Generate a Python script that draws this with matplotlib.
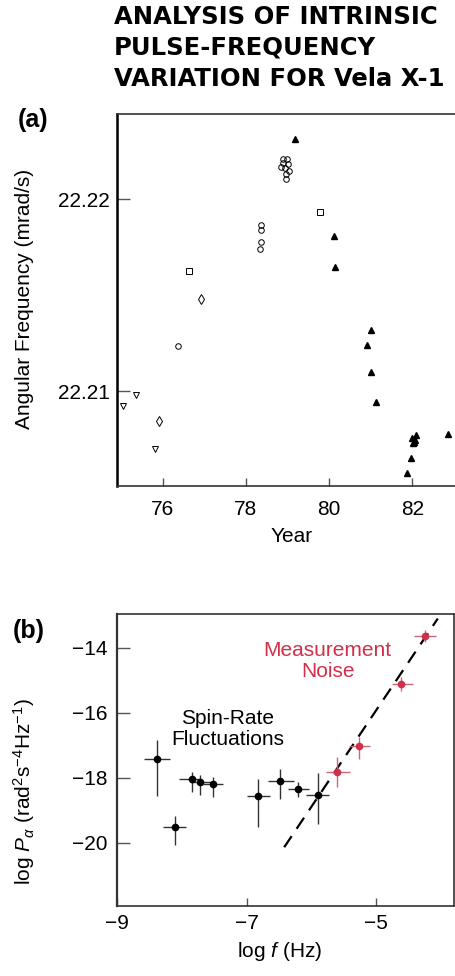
import matplotlib
matplotlib.use("Agg")
import matplotlib.pyplot as plt

plt.rcParams['font.family'] = ['Liberation Sans', 'DejaVu Sans']
plt.rcParams['mathtext.fontset'] = 'custom'
plt.rcParams['mathtext.rm'] = 'Liberation Sans'
plt.rcParams['mathtext.it'] = 'Liberation Sans:italic'
plt.rcParams['axes.unicode_minus'] = True

# ------------------------------------------------------------
# (a) 脉冲角频率 vs 年份
# ------------------------------------------------------------
tri_down_year = [75.05, 75.35, 75.82]
tri_down_freq = [22.20922, 22.20981, 22.20700]

diamond_year = [75.92, 76.91]
diamond_freq = [22.20844, 22.21478]

circle_year = [76.36, 78.33, 78.37, 78.37, 78.37,
               78.88, 78.99, 78.90, 79.01, 78.85, 78.94, 79.03, 78.97, 78.96]
circle_freq = [22.21236, 22.21741, 22.21778, 22.21839, 22.21865,
               22.22208, 22.22208, 22.22189, 22.22182, 22.22165, 22.22160,
               22.22149, 22.22129, 22.22104]

square_year = [76.62, 79.79]
square_freq = [22.21625, 22.21931]

tri_up_year = [79.18, 80.11, 80.13, 81.01, 80.92, 81.01, 81.12,
               82.09, 81.99, 82.07, 82.01, 82.05, 81.96, 81.86, 82.85]
tri_up_freq = [22.22311, 22.21806, 22.21647, 22.21316, 22.21240, 22.21101,
               22.20943, 22.20771, 22.20757, 22.20745, 22.20727, 22.20736,
               22.20653, 22.20573, 22.20778]

year_ticks = [76, 78, 80, 82]
freq_ticks = [22.21, 22.22]

# ------------------------------------------------------------
# (b) 功率谱
# ------------------------------------------------------------
spin_logf = [-8.39, -8.10, -7.85, -7.72, -7.52, -6.82, -6.48, -6.20, -5.90]
spin_logp = [-17.42, -19.51, -18.05, -18.12, -18.20, -18.57, -18.10, -18.36, -18.52]
spin_f_lo = [-8.58, -8.29, -8.04, -7.88, -7.67, -7.00, -6.67, -6.36, -6.08]
spin_f_hi = [-8.18, -7.93, -7.70, -7.55, -7.36, -6.64, -6.27, -6.03, -5.73]
spin_p_hi = [-16.84, -19.17, -17.82, -17.92, -17.97, -18.05, -17.73, -18.14, -17.87]
spin_p_lo = [-18.56, -20.07, -18.43, -18.53, -18.60, -19.53, -18.66, -18.58, -19.42]

noise_logf = [-5.60, -5.26, -4.62, -4.24]
noise_logp = [-17.83, -17.02, -15.11, -13.64]
noise_f_lo = [-5.78, -5.42, -4.76, -4.42]
noise_f_hi = [-5.40, -5.10, -4.44, -4.07]
noise_p_hi = [-17.35, -16.74, -14.89, -13.46]
noise_p_lo = [-18.28, -17.43, -15.32, -13.82]

fit_logf = [-6.42, -4.05]
fit_logp = [-20.14, -13.10]

logf_ticks = [-9, -7, -5]
logp_ticks = [-14, -16, -18, -20]

RED = '#d12f4b'
FS = 15

fig = plt.figure(figsize=(4.56, 9.76), dpi=100)

# 标题 (原图字距很宽，用 DejaVu Sans Bold 近似宽度)
fig.text(0.250, 0.995, "ANALYSIS OF INTRINSIC\nPULSE-FREQUENCY\nVARIATION FOR Vela X-1",
         ha='left', va='top', fontsize=17.5, fontweight='bold', linespacing=1.36,
         family=['DejaVu Sans'])
fig.text(0.040, 0.877, "(a)", fontsize=18, fontweight='bold', ha='left', va='center')
fig.text(0.028, 0.3535, "(b)", fontsize=18, fontweight='bold', ha='left', va='center')

# ---------------- (a) ----------------
ax1 = fig.add_axes([0.2566, 0.5020, 0.7434, 0.3811])
mk = dict(linestyle='none', markerfacecolor='none', markeredgecolor='black',
          markeredgewidth=0.7)
ax1.plot(tri_down_year, tri_down_freq, marker='v', markersize=4, **mk)
ax1.plot(diamond_year, diamond_freq, marker='d', markersize=5, **mk)
ax1.plot(circle_year, circle_freq, marker='o', markersize=4, **mk)
ax1.plot(square_year, square_freq, marker='s', markersize=3.8, **mk)
ax1.plot(tri_up_year, tri_up_freq, linestyle='none', marker='^', markersize=4.2,
         color='black')

ax1.set_xlim(74.90, 83.05)
ax1.set_ylim(22.20505, 22.22443)
ax1.set_xticks(year_ticks)
ax1.set_xticklabels([str(y) for y in year_ticks])
ax1.set_yticks(freq_ticks)
ax1.set_yticklabels(['22.21', '22.22'])
ax1.tick_params(axis='x', direction='in', length=6, width=1.0, pad=10,
                labelsize=FS, colors='#555555', labelcolor='black')
ax1.tick_params(axis='y', direction='in', length=9, width=1.0, pad=5,
                labelsize=FS, colors='#555555', labelcolor='black')
ax1.spines['right'].set_visible(False)
ax1.spines['left'].set_linewidth(1.8)
ax1.spines['top'].set_linewidth(1.2)
ax1.spines['bottom'].set_linewidth(1.2)
ax1.spines['top'].set_color('#333333')
ax1.spines['bottom'].set_color('#333333')
ax1.set_xlabel("Year", fontsize=FS)
ax1.xaxis.set_label_coords(0.515, -0.110)
ax1.set_ylabel("Angular Frequency (mrad/s)", fontsize=FS)
ax1.yaxis.set_label_coords(-0.245, 0.503)

# ---------------- (b) ----------------
ax2 = fig.add_axes([0.2566, 0.0717, 0.7390, 0.2992])

ax2.plot(fit_logf, fit_logp, color='black', linewidth=1.6, dashes=(6, 4), zorder=1)

sx_err = [[x - lo for x, lo in zip(spin_logf, spin_f_lo)],
          [hi - x for x, hi in zip(spin_logf, spin_f_hi)]]
sy_err = [[y - lo for y, lo in zip(spin_logp, spin_p_lo)],
          [hi - y for y, hi in zip(spin_logp, spin_p_hi)]]
ax2.errorbar(spin_logf, spin_logp, xerr=sx_err, yerr=sy_err, fmt='o',
             color='black', ecolor='#333333', elinewidth=1.0, capsize=0,
             markersize=4.5, zorder=3)

nx_err = [[x - lo for x, lo in zip(noise_logf, noise_f_lo)],
          [hi - x for x, hi in zip(noise_logf, noise_f_hi)]]
ny_err = [[y - lo for y, lo in zip(noise_logp, noise_p_lo)],
          [hi - y for y, hi in zip(noise_logp, noise_p_hi)]]
ax2.errorbar(noise_logf, noise_logp, xerr=nx_err, yerr=ny_err, fmt='o',
             color=RED, ecolor='#c46a78', elinewidth=1.0, capsize=0,
             markersize=4.5, zorder=3)

ax2.text(-5.75, -14.40, "Measurement\nNoise", color=RED, fontsize=FS,
         ha='center', va='center', linespacing=1.15)
ax2.text(-7.29, -16.50, "Spin-Rate\nFluctuations", color='black', fontsize=FS,
         ha='center', va='center', linespacing=1.15)

ax2.set_xlim(-8.98, -3.80)
ax2.set_ylim(-21.95, -12.96)
ax2.set_xticks(logf_ticks)
ax2.set_xticklabels(['\u22129', '\u22127', '\u22125'])
ax2.set_yticks(logp_ticks)
ax2.set_yticklabels(['\u221214', '\u221216', '\u221218', '\u221220'])
ax2.tick_params(axis='x', direction='in', length=6, width=1.0, pad=6,
                labelsize=FS, colors='#555555', labelcolor='black')
ax2.tick_params(axis='y', direction='in', length=9, width=1.0, pad=7,
                labelsize=FS, colors='#555555', labelcolor='black')
for s in ax2.spines.values():
    s.set_linewidth(1.2)
    s.set_color('#333333')
ax2.spines['left'].set_linewidth(1.6)
ax2.set_xlabel(r"log $f$ (Hz)", fontsize=FS)
ax2.xaxis.set_label_coords(0.484, -0.118)
ax2.set_ylabel(r"log $P_\alpha$ (rad$^2$s$^{-4}$Hz$^{-1}$)", fontsize=FS)
ax2.yaxis.set_label_coords(-0.237, 0.39)

fig.savefig("out.png", dpi=100)
